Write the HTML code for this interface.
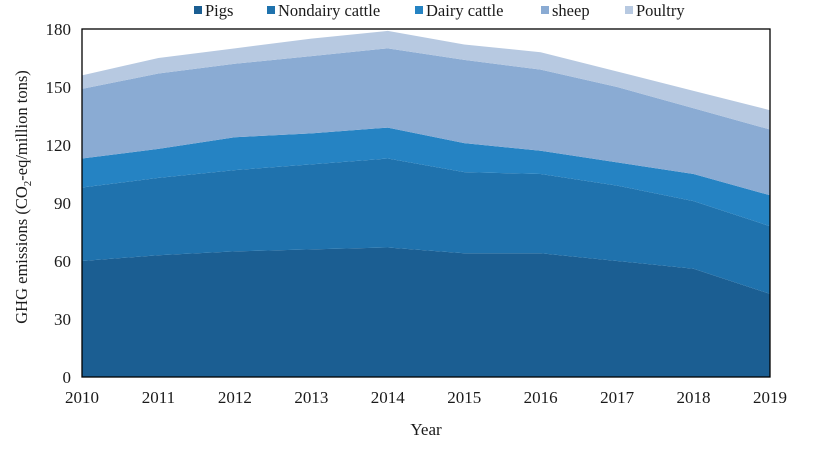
<!DOCTYPE html>
<html><head><meta charset="utf-8"><style>
body{margin:0;background:#fff;}
svg{display:block;font-family:"Liberation Serif",serif;}
</style></head><body>
<svg id="chart" width="827" height="449"></svg>
<script>
const years=[2010,2011,2012,2013,2014,2015,2016,2017,2018,2019];
const pigs=[60,63,65,66,67,64,64,60,56,43];
const nondairy=[38,40,42,44,46,42,41,39,35,35];
const dairy=[15,15,17,16,16,15,12,12,14,16];
const sheep=[36,39,38,40,41,43,42,39,34,34];
const poultry=[7,8,8,9,9,8,9,8,9,10];
const yTicks=[0,30,60,90,120,150,180];
const seriesNames=["Pigs","Nondairy cattle","Dairy cattle","sheep","Poultry"];
const seriesData=[pigs,nondairy,dairy,sheep,poultry];
const colors=["#1b5e92","#1f72ad","#2583c3","#8aabd3","#b7c9e1"];
const L=82,R=770,T=29,B=377;
const NS="http://www.w3.org/2000/svg";
const svg=document.getElementById('chart');
const xS=i=>L+(R-L)*i/(years.length-1);
const yS=v=>B-(B-T)*v/180;
function mk(t,a){const e=document.createElementNS(NS,t);for(const k in a)e.setAttribute(k,a[k]);svg.appendChild(e);return e;}
let base=years.map(()=>0);
seriesData.forEach((s,si)=>{
  const top=base.map((b,i)=>b+s[i]);
  let d="M"+years.map((_,i)=>xS(i)+","+yS(top[i])).join(" L");
  for(let i=years.length-1;i>=0;i--)d+=" L"+xS(i)+","+yS(base[i]);
  const p=mk('path',{d:d+"Z",fill:colors[si]});
  
  
  base=top;
});
const fr=mk('rect',{x:L,y:T,width:R-L,height:B-T,fill:"none",stroke:"#000","stroke-width":1.3});


yTicks.forEach(v=>{
  const t=mk('text',{x:L-11,y:yS(v)+6,"text-anchor":"end","font-size":17,fill:"#1a1a1a"});
  t.textContent=v;
  
  
});
years.forEach((yr,i)=>{
  const t=mk('text',{x:xS(i),y:403,"text-anchor":"middle","font-size":17,fill:"#1a1a1a"});
  t.textContent=yr;
  
  
});
const xt=mk('text',{x:426,y:435,"text-anchor":"middle","font-size":17,fill:"#1a1a1a"});
xt.textContent="Year";


const yt=mk('text',{transform:"translate(27,197) rotate(-90)","text-anchor":"middle","font-size":16.5,fill:"#1a1a1a"});
yt.innerHTML='GHG emissions (CO<tspan font-size="11" dy="4">2</tspan><tspan dy="-4">-eq/million tons)</tspan>';


const lx=[194,267,415,541,625];
seriesNames.forEach((n,i)=>{
  const g=document.createElementNS(NS,'g');svg.appendChild(g);
  
  
  const r=document.createElementNS(NS,'rect');
  r.setAttribute('x',lx[i]);r.setAttribute('y',6);r.setAttribute('width',8);r.setAttribute('height',8);r.setAttribute('fill',colors[i]);
  g.appendChild(r);
  const t=document.createElementNS(NS,'text');
  t.setAttribute('x',lx[i]+11);t.setAttribute('y',16);t.setAttribute('font-size',16.5);t.setAttribute('fill','#1a1a1a');
  t.textContent=n;g.appendChild(t);
});
</script>
</body></html>
